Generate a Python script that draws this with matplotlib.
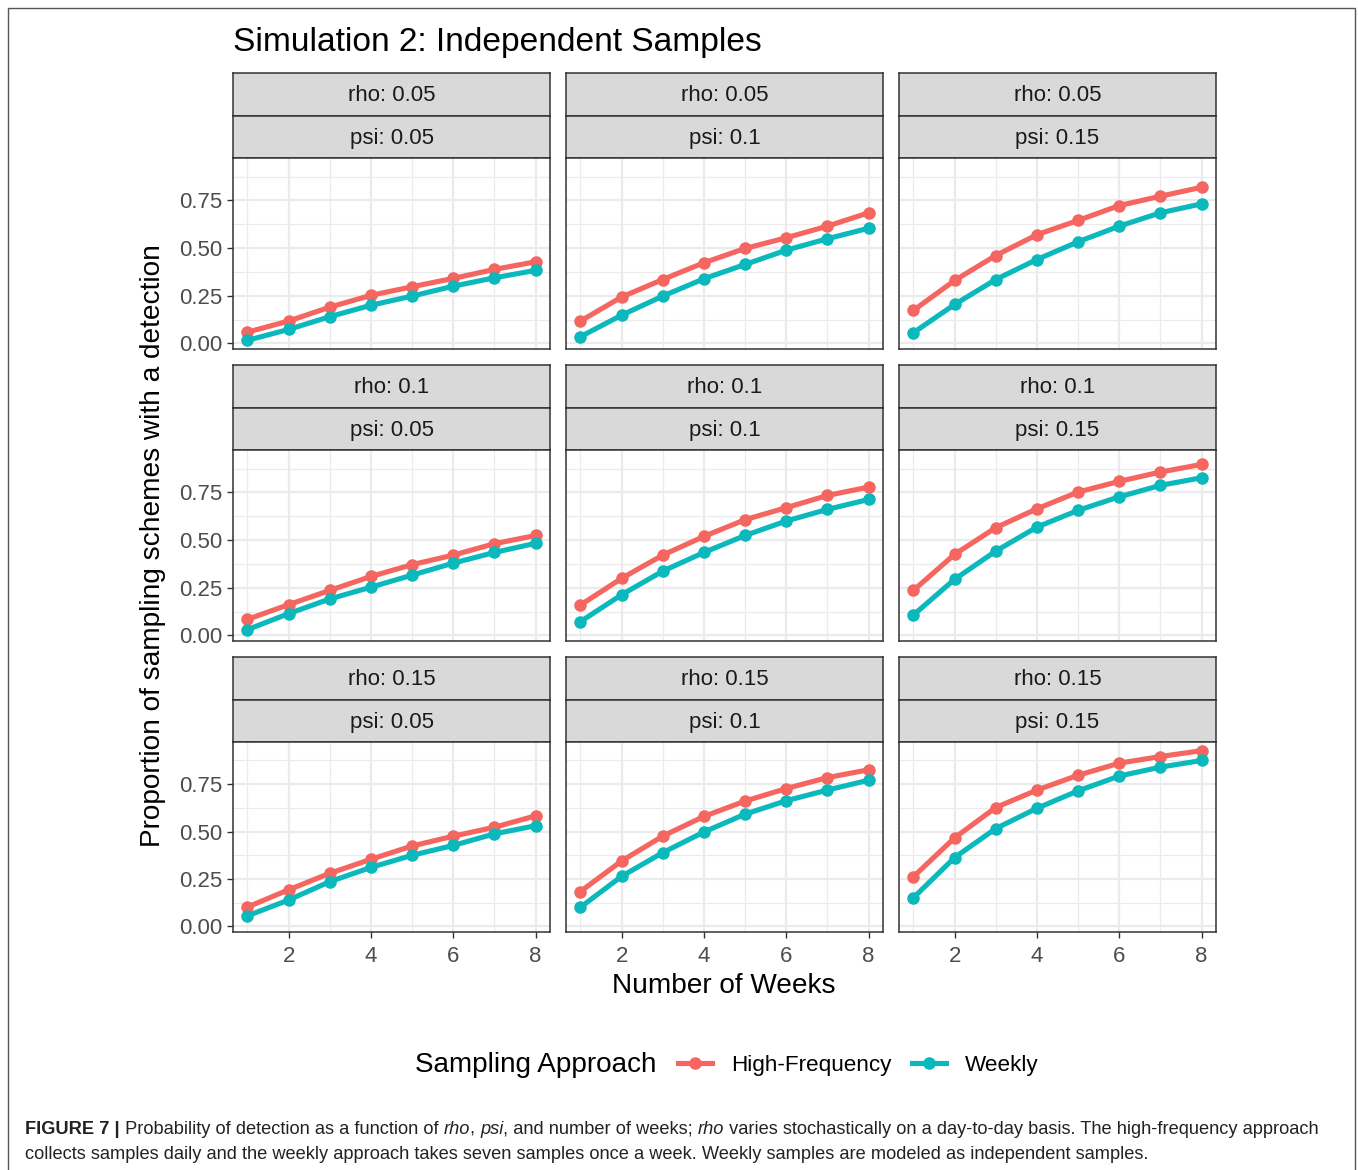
import numpy as np
import matplotlib
matplotlib.use("Agg")
import matplotlib.pyplot as plt
from matplotlib.patches import Rectangle
from matplotlib.lines import Line2D

plt.rcParams['font.family'] = ['Liberation Sans', 'DejaVu Sans']

# ---------------- data ----------------
weeks = [1, 2, 3, 4, 5, 6, 7, 8]
rho_labels = ["rho: 0.05", "rho: 0.1", "rho: 0.15"]
psi_labels = ["psi: 0.05", "psi: 0.1", "psi: 0.15"]
series_names = ["High-Frequency", "Weekly"]

# rows = rho, columns = psi
hf_rho005 = [
    [0.059, 0.117, 0.190, 0.252, 0.297, 0.341, 0.388, 0.428],
    [0.117, 0.243, 0.335, 0.423, 0.498, 0.554, 0.615, 0.685],
    [0.173, 0.330, 0.461, 0.570, 0.645, 0.723, 0.772, 0.819],
]
wk_rho005 = [
    [0.016, 0.073, 0.140, 0.200, 0.248, 0.300, 0.344, 0.383],
    [0.035, 0.148, 0.248, 0.339, 0.414, 0.489, 0.549, 0.604],
    [0.056, 0.204, 0.335, 0.440, 0.533, 0.615, 0.685, 0.732],
]
hf_rho010 = [
    [0.084, 0.161, 0.236, 0.309, 0.371, 0.421, 0.481, 0.524],
    [0.159, 0.299, 0.421, 0.519, 0.607, 0.670, 0.734, 0.778],
    [0.236, 0.425, 0.565, 0.664, 0.752, 0.808, 0.857, 0.897],
]
wk_rho010 = [
    [0.030, 0.114, 0.191, 0.253, 0.316, 0.379, 0.435, 0.483],
    [0.072, 0.213, 0.337, 0.435, 0.524, 0.600, 0.661, 0.713],
    [0.107, 0.294, 0.442, 0.568, 0.656, 0.727, 0.787, 0.827],
]
hf_rho015 = [
    [0.102, 0.193, 0.280, 0.354, 0.424, 0.476, 0.523, 0.583],
    [0.184, 0.345, 0.476, 0.580, 0.661, 0.727, 0.785, 0.826],
    [0.262, 0.467, 0.627, 0.719, 0.797, 0.861, 0.896, 0.927],
]
wk_rho015 = [
    [0.056, 0.139, 0.236, 0.311, 0.375, 0.427, 0.488, 0.531],
    [0.101, 0.264, 0.389, 0.498, 0.592, 0.663, 0.719, 0.771],
    [0.151, 0.363, 0.516, 0.623, 0.715, 0.793, 0.840, 0.875],
]
hf_all = [hf_rho005, hf_rho010, hf_rho015]
wk_all = [wk_rho005, wk_rho010, wk_rho015]

x_ticks = [2, 4, 6, 8]
y_ticks = [0.00, 0.25, 0.50, 0.75]
y_tick_labels = ["0.00", "0.25", "0.50", "0.75"]

title = "Simulation 2: Independent Samples"
xlabel = "Number of Weeks"
ylabel = "Proportion of sampling schemes with a detection"
legend_title = "Sampling Approach"

# ---------------- style ----------------
W, H = 1358, 1170
col_hf = "#F4665F"
col_wk = "#0BB8BC"
grid_col = "#EBEBEB"
dark = "#333333"
strip_fill = "#D9D9D9"
lw = 3.7
ms = 8.0

fig = plt.figure(figsize=(W / 100, H / 100), dpi=100)
fig.patch.set_facecolor("white")


def px_axes(x0, y0, x1, y1, **kw):
    return fig.add_axes([x0 / W, 1 - y1 / H, (x1 - x0) / W, (y1 - y0) / H], **kw)


# outer frame
fig.patches.append(Rectangle((8 / W, -0.01), (1355 - 8) / W, 1 - 8 / H + 0.01,
                             transform=fig.transFigure, fill=False,
                             edgecolor="#555555", linewidth=1.0))

col_x = [(233, 550), (566, 883), (899, 1216)]
row_y = [(73, 349), (365, 641), (657, 932)]
strip_h = 42.5

all_vals = np.array(hf_all + wk_all).ravel()
vmin, vmax = all_vals.min(), all_vals.max()
pad = 0.05 * (vmax - vmin)
ylim = (vmin - pad, vmax + pad)
xlim = (1 - 0.05 * 7, 8 + 0.05 * 7)

for r in range(3):
    for c in range(3):
        x0, x1 = col_x[c]
        y0, y1 = row_y[r]
        # strips
        for k, lab in enumerate([rho_labels[r], psi_labels[c]]):
            sy0 = y0 + k * strip_h
            sy1 = sy0 + strip_h
            sax = px_axes(x0, sy0, x1, sy1)
            sax.set_facecolor(strip_fill)
            sax.set_xticks([]); sax.set_yticks([])
            for sp in sax.spines.values():
                sp.set_color(dark); sp.set_linewidth(1.1)
            sax.text(0.5, 0.47, lab, ha="center", va="center", fontsize=16,
                     color="#1A1A1A", transform=sax.transAxes)
        ax = px_axes(x0, y0 + 2 * strip_h, x1, y1)
        ax.set_xlim(*xlim); ax.set_ylim(*ylim)
        ax.set_facecolor("white")
        ax.set_xticks(x_ticks)
        ax.set_xticks([1, 3, 5, 7], minor=True)
        ax.set_yticks(y_ticks)
        ax.set_yticks([0.125, 0.375, 0.625, 0.875], minor=True)
        ax.grid(True, which="major", color=grid_col, linewidth=1.6, zorder=0)
        ax.grid(True, which="minor", color=grid_col, linewidth=0.9, zorder=0)
        ax.set_axisbelow(True)
        for sp in ax.spines.values():
            sp.set_color(dark); sp.set_linewidth(1.1)
        ax.tick_params(which="minor", length=0)
        ax.tick_params(which="major", length=4, width=1.0, color=dark,
                       labelsize=16, labelcolor="#4D4D4D", pad=4)
        ax.tick_params(axis="x", which="major", pad=6)
        if c == 0:
            ax.set_yticklabels(y_tick_labels)
        else:
            ax.tick_params(axis="y", which="major", length=0, labelleft=False)
        if r == 2:
            ax.set_xticklabels([str(t) for t in x_ticks])
        else:
            ax.tick_params(axis="x", which="major", length=0, labelbottom=False)
        ax.plot(weeks, hf_all[r][c], color=col_hf, linewidth=lw, marker="o",
                markersize=ms, solid_capstyle="butt", zorder=3, label=series_names[0])
        ax.plot(weeks, wk_all[r][c], color=col_wk, linewidth=lw, marker="o",
                markersize=ms, solid_capstyle="butt", zorder=3, label=series_names[1])

# titles
fig.text(233 / W, 1 - 42 / H, title, fontsize=24.1, ha="left", va="center", color="black")
fig.text(724 / W, 1 - 986 / H, xlabel, fontsize=20.2, ha="center", va="center", color="black")
fig.text(153 / W, 1 - 546 / H, ylabel, fontsize=20.2, ha="center", va="center",
         rotation=90, color="black")

# legend
fig.text(415 / W, 1 - 1065 / H, legend_title, fontsize=20.1, ha="left", va="center",
         color="black")
handles = [Line2D([], [], color=col_hf, linewidth=lw, marker="o", markersize=ms),
           Line2D([], [], color=col_wk, linewidth=lw, marker="o", markersize=ms)]
fig.legend(handles, series_names, loc="center left",
           bbox_to_anchor=(678 / W, 1 - 1065 / H), ncol=2, frameon=False,
           fontsize=16.2, handlelength=1.5, handletextpad=0.85, columnspacing=0.93,
           borderpad=0, borderaxespad=0)

# caption with mixed styles
fig.canvas.draw()
renderer = fig.canvas.get_renderer()


def write_line(pieces, x_px, y_px, size):
    x = x_px
    for txt, style in pieces:
        kw = {}
        if style == "b":
            kw["fontweight"] = "bold"
        elif style == "i":
            kw["fontstyle"] = "italic"
        t = fig.text(x / W, 1 - y_px / H, txt, fontsize=size, ha="left",
                     va="baseline", color="#222222", **kw)
        bb = t.get_window_extent(renderer)
        x += bb.width


cap_size = 13.14
line1 = [("FIGURE 7 |", "b"), (" Probability of detection as a function of ", "n"),
         ("rho", "i"), (", ", "n"), ("psi", "i"), (", and number of weeks; ", "n"),
         ("rho", "i"),
         (" varies stochastically on a day-to-day basis. The high-frequency approach", "n")]
line2 = [("collects samples daily and the weekly approach takes seven samples once a week. "
          "Weekly samples are modeled as independent samples.", "n")]
write_line(line1, 25, 1134, cap_size)
write_line(line2, 25, 1159, cap_size)

fig.savefig("out.png", dpi=100, facecolor="white")
